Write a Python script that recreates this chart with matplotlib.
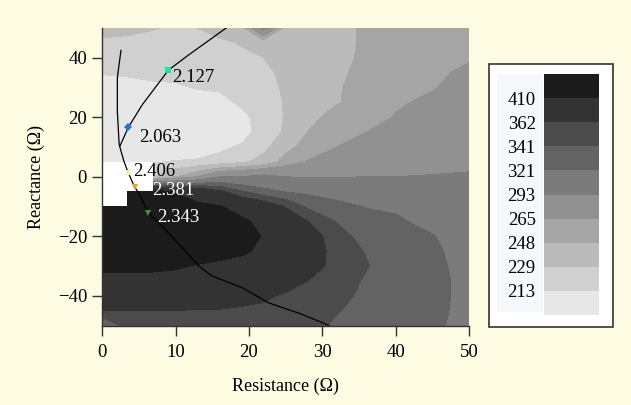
import numpy as np
import matplotlib
matplotlib.use("Agg")
import matplotlib.pyplot as plt
from matplotlib.patches import Rectangle

plt.rcParams['font.family'] = ['Liberation Serif', 'DejaVu Serif']

# ---------------- data ----------------
resistance = [0, 3.5, 7, 10, 13, 16, 19, 22, 25, 28, 32, 36, 40, 45, 50]
reactance = [50, 45, 40, 35, 30, 25, 20, 15, 10, 5, 0, -5, -10,
             -15, -20, -25, -30, -35, -40, -45, -50]
N = np.nan
# field value read at each (reactance row, resistance column); NaN = no data (white)
field = [
    [235, 233, 230, 226, 229, 235, 242, 298, 240, 238, 244, 250, 254, 256, 260],
    [226, 225, 223, 223, 224, 226, 230, 235, 238, 240, 244, 250, 255, 259, 261],
    [223, 222, 221, 221, 221, 223, 226, 229, 234, 238, 245, 250, 256, 261, 264],
    [214, 215, 217, 217, 218, 219, 223, 226, 232, 238, 246, 251, 258, 263, 267],
    [206, 208, 210, 211, 214, 215, 220, 224, 231, 239, 247, 252, 260, 264, 271],
    [203, 203, 203, 205, 206, 208, 216, 223, 230, 241, 247, 254, 263, 268, 274],
    [200, 200, 200, 202, 202, 203, 208, 221, 230, 244, 253, 257, 266, 273, 278],
    [200, 200, 200, 202, 202, 203, 206, 221, 231, 248, 257, 265, 273, 279, 282],
    [203, 203, 203, 203, 205, 210, 215, 224, 242, 255, 265, 273, 279, 283, 286],
    [212, 212, 212, 214, 215, 218, 226, 235, 255, 266, 276, 279, 284, 287, 289],
    [N,   N,   228, 247, 266, 292, 294, 301, 293, 291, 292, 293, 293, 294, 295],
    [N,   430, 426, 408, 391, 367, 343, 327, 320, 317, 312, 308, 305, 301, 298],
    [430, 430, 430, 422, 418, 412, 396, 381, 360, 337, 327, 320, 318, 307, 302],
    [434, 434, 434, 432, 430, 424, 416, 401, 381, 362, 340, 328, 324, 315, 307],
    [434, 436, 436, 434, 432, 430, 422, 408, 394, 379, 346, 336, 328, 322, 310],
    [430, 430, 430, 428, 426, 422, 414, 405, 396, 384, 349, 340, 331, 325, 312],
    [418, 418, 416, 414, 408, 403, 401, 396, 391, 379, 350, 342, 332, 326, 314],
    [401, 401, 401, 398, 396, 394, 391, 386, 376, 362, 349, 339, 332, 327, 315],
    [389, 391, 389, 386, 384, 381, 374, 367, 358, 355, 346, 337, 331, 327, 315],
    [361, 361, 361, 361, 361, 360, 357, 356, 353, 351, 342, 335, 330, 326, 315],
    [318, 351, 353, 354, 353, 353, 351, 351, 349, 347, 338, 334, 329, 325, 314],
]

levels = [190, 213, 229, 248, 265, 293, 321, 341, 362, 410, 450]
level_labels = ['213', '229', '248', '265', '293', '321', '341', '362', '410']
band_colors = ['#e7e7e7', '#d0d0d0', '#bbbbbb', '#a5a5a5', '#919191',
               '#7b7b7b', '#636363', '#4b4b4b', '#333333', '#1b1b1b']

# trajectory curves (resistance, reactance)
curve1_r = [2.55, 2.3, 2.05, 2.05, 2.3, 2.95, 3.5, 4.4, 5.0, 6.3, 8.5, 10.5,
            13.2, 15.0, 19.1, 22.7, 27.3, 30.9]
curve1_x = [42.5, 38.0, 33.2, 22.0, 10.8, 5.2, 1.6, -3.5, -5.5, -12.2, -17.5,
            -22.8, -30.1, -33.4, -37.3, -42.4, -46.3, -50.0]
curve2_r = [2.4, 3.55, 5.45, 9.0, 11.8, 17.0]
curve2_x = [10.3, 16.6, 24.2, 35.8, 41.0, 50.2]

marker_r = [9.0, 3.55, 3.5, 4.4, 6.2]
marker_x = [35.8, 16.6, 1.6, -3.5, -12.2]
marker_labels = ['2.127', '2.063', '2.406', '2.381', '2.343']
marker_colors = ['#19e6a4', '#2a6fd6', '#f4f0a8', '#f0a018', '#3f9a1e']
marker_shapes = ['s', 'D', 'o', 'v', 'v']
label_colors = ['black', 'black', 'black', 'white', 'white']
label_offsets = [(4, -7), (11, -10), (5, 0), (18, -3), (9, -4)]

bg = '#fdfbe1'

# ---------------- figure ----------------
fig = plt.figure(figsize=(6.31, 4.05), dpi=100, facecolor=bg)
ax = fig.add_axes([102.3 / 631, 1 - 325.5 / 405, 366.7 / 631, 297.5 / 405])
ax.set_facecolor('white')

Z = np.ma.masked_invalid(np.array(field, dtype=float))
cs = ax.contourf(resistance, reactance, Z, levels=levels, colors=band_colors,
                 corner_mask=False, antialiased=False)

ax.plot(curve1_r, curve1_x, color='black', lw=0.9)
ax.plot(curve2_r, curve2_x, color='black', lw=0.9)

for r, x, lab, c, m, lc, off in zip(marker_r, marker_x, marker_labels,
                                     marker_colors, marker_shapes,
                                     label_colors, label_offsets):
    ax.plot([r], [x], marker=m, color=c, ms=4 if m in 'sDo' else 5,
            markeredgewidth=0, linestyle='none', zorder=4)
    ax.annotate(lab, (r, x), xytext=off, textcoords='offset pixels',
                ha='left', va='center', fontsize=13.5, color=lc, zorder=5)

ax.set_xlim(0, 50)
ax.set_ylim(-50, 50)
ax.set_xticks([0, 10, 20, 30, 40, 50])
ax.set_yticks([-40, -20, 0, 20, 40])
for s in ['top', 'right']:
    ax.spines[s].set_visible(False)
for s in ['left', 'bottom']:
    ax.spines[s].set_color('#333333')
    ax.spines[s].set_linewidth(1.0)
ax.tick_params(direction='out', length=7, width=1, color='#333333',
               labelsize=13.5)
ax.tick_params(axis='x', pad=6)
ax.tick_params(axis='y', pad=4)
ax.set_xlabel('Resistance (Ω)', fontsize=13, labelpad=12)
ax.set_ylabel('Reactance (Ω)', fontsize=13, labelpad=9)

# legend box
fig.patches.append(Rectangle((489 / 631, 1 - 327 / 405), 124 / 631, 263 / 405,
                             transform=fig.transFigure, facecolor='white',
                             edgecolor='#333333', lw=1.2, zorder=-2))
fig.patches.append(Rectangle((497 / 631, 1 - 312 / 405), 46 / 631, 238 / 405,
                             transform=fig.transFigure, facecolor='#f5f8fc',
                             edgecolor='none', zorder=-1))
cax = fig.add_axes([544 / 631, 1 - 315 / 405, 55 / 631, 241 / 405])
cb = fig.colorbar(cs, cax=cax, ticks=levels[1:-1], spacing='uniform')
cb.outline.set_visible(False)
cax.yaxis.set_ticks_position('left')
cax.yaxis.set_label_position('left')
cax.set_yticklabels(level_labels)
cax.tick_params(length=0, pad=6, labelsize=13.5)

fig.savefig('out.png', dpi=100, facecolor=bg)
